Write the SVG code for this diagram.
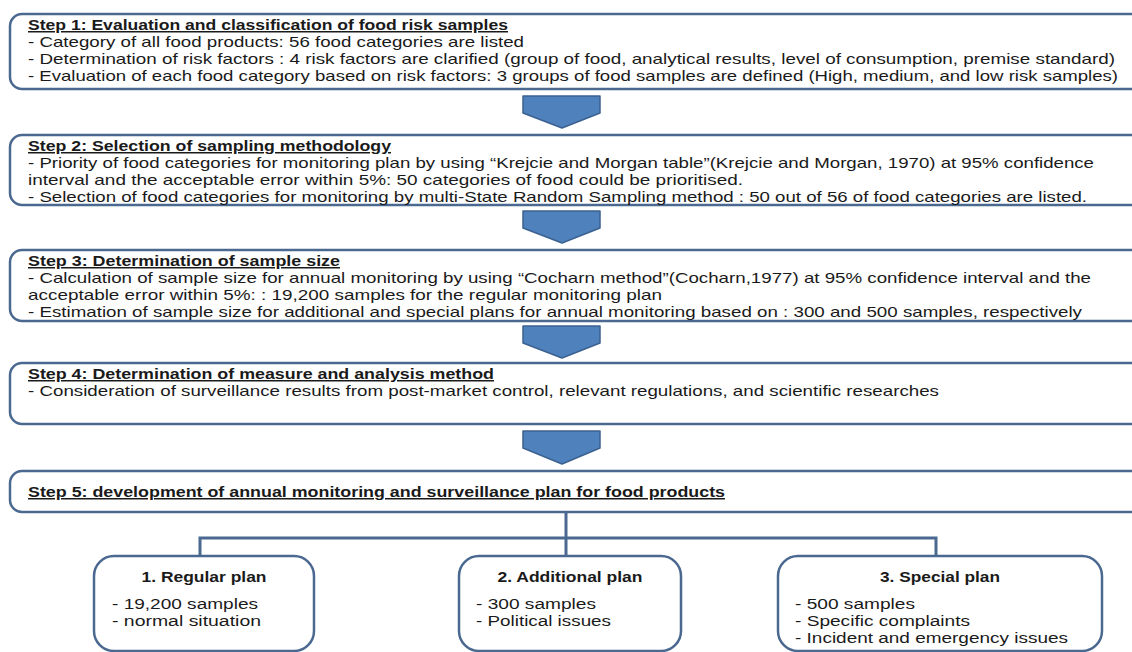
<svg xmlns="http://www.w3.org/2000/svg" width="1132" height="652" viewBox="0 0 1132 652">
<style>
.box{fill:#fff;stroke:#4a6890;stroke-width:2.5}
.arr{fill:#4f81bd;stroke:#3b6190;stroke-width:1.5;stroke-linejoin:round}
.t{font-family:"Liberation Sans",Arial,sans-serif;font-size:15px;fill:#1a1a1a}
.p{font-size:15.5px}
.h{font-weight:bold;text-decoration:underline}
.b{font-weight:bold}
.con{fill:none;stroke:#4a6890;stroke-width:3}
</style>
<rect width="1132" height="652" fill="#fff"/>
<g id="step1">
<rect class="box" x="10" y="14" width="1140" height="75" rx="12"/>
<text class="t h" x="28" y="30" textLength="480" lengthAdjust="spacingAndGlyphs">Step 1: Evaluation and classification of food risk samples</text>
<text class="t" x="28" y="47" textLength="496" lengthAdjust="spacingAndGlyphs">- Category of all food products: 56 food categories are listed</text>
<text class="t" x="28" y="64" textLength="1087" lengthAdjust="spacingAndGlyphs">- Determination of risk factors : 4 risk factors are clarified (group of food, analytical results, level of consumption, premise standard)</text>
<text class="t" x="28" y="81" textLength="1090" lengthAdjust="spacingAndGlyphs">- Evaluation of each food category based on risk factors: 3 groups of food samples are defined (High, medium, and low risk samples)</text>
</g>
<g id="arrow1"><polygon class="arr" points="523,96 600,96 600,113 562,128 523,113"/></g>
<g id="step2">
<rect class="box" x="10" y="135" width="1140" height="70" rx="12"/>
<text class="t h" x="28" y="151" textLength="363" lengthAdjust="spacingAndGlyphs">Step 2: Selection of sampling methodology</text>
<text class="t" x="28" y="168" textLength="1066" lengthAdjust="spacingAndGlyphs">- Priority of food categories for monitoring plan by using “Krejcie and Morgan table”(Krejcie and Morgan, 1970) at 95% confidence</text>
<text class="t" x="28" y="185" textLength="715" lengthAdjust="spacingAndGlyphs">interval and the acceptable error within 5%: 50 categories of food could be prioritised.</text>
<text class="t" x="28" y="202" textLength="1059" lengthAdjust="spacingAndGlyphs">- Selection of food categories for monitoring by multi-State Random Sampling method : 50 out of 56 of food categories are listed.</text>
</g>
<g id="arrow2"><polygon class="arr" points="523,211 600,211 600,228 562,243 523,228"/></g>
<g id="step3">
<rect class="box" x="10" y="250" width="1140" height="71" rx="12"/>
<text class="t h" x="28" y="266" textLength="312" lengthAdjust="spacingAndGlyphs">Step 3: Determination of sample size</text>
<text class="t" x="28" y="283" textLength="1063" lengthAdjust="spacingAndGlyphs">- Calculation of sample size for annual monitoring by using “Cocharn method”(Cocharn,1977) at 95% confidence interval and the</text>
<text class="t" x="28" y="300" textLength="634" lengthAdjust="spacingAndGlyphs">acceptable error within 5%: : 19,200 samples for the regular monitoring plan</text>
<text class="t" x="28" y="317" textLength="1054" lengthAdjust="spacingAndGlyphs">- Estimation of sample size for additional and special plans for annual monitoring based on :  300 and 500  samples, respectively</text>
</g>
<g id="arrow3"><polygon class="arr" points="523,326 600,326 600,343 562,358 523,343"/></g>
<g id="step4">
<rect class="box" x="10" y="363" width="1140" height="61" rx="12"/>
<text class="t h" x="28" y="379" textLength="466" lengthAdjust="spacingAndGlyphs">Step 4: Determination of measure and analysis method</text>
<text class="t" x="28" y="396" textLength="911" lengthAdjust="spacingAndGlyphs">- Consideration of surveillance results from post-market control, relevant regulations, and scientific researches</text>
</g>
<g id="arrow4"><polygon class="arr" points="523,431 600,431 600,448 562,464 523,448"/></g>
<g id="step5">
<rect class="box" x="10" y="471" width="1140" height="41" rx="12"/>
<text class="t h" x="28" y="497" textLength="697" lengthAdjust="spacingAndGlyphs">Step 5: development of annual monitoring and surveillance plan for food products</text>
</g>
<g id="connectors">
<path class="con" d="M566,512 V556"/>
<path class="con" d="M200,556 V538 H936 V556"/>
</g>
<g id="plan1">
<rect class="box" x="94" y="556" width="220" height="95" rx="20"/>
<text class="t p b" x="204" y="582" text-anchor="middle" textLength="125" lengthAdjust="spacingAndGlyphs">1. Regular plan</text>
<text class="t p" x="112" y="609" textLength="146" lengthAdjust="spacingAndGlyphs">- 19,200 samples</text>
<text class="t p" x="112" y="626" textLength="149" lengthAdjust="spacingAndGlyphs">- normal situation</text>
</g>
<g id="plan2">
<rect class="box" x="459" y="556" width="222" height="95" rx="20"/>
<text class="t p b" x="570" y="582" text-anchor="middle" textLength="145" lengthAdjust="spacingAndGlyphs">2. Additional plan</text>
<text class="t p" x="476" y="609" textLength="120" lengthAdjust="spacingAndGlyphs">- 300 samples</text>
<text class="t p" x="476" y="626" textLength="135" lengthAdjust="spacingAndGlyphs">- Political issues</text>
</g>
<g id="plan3">
<rect class="box" x="778" y="556" width="324" height="95" rx="20"/>
<text class="t p b" x="940" y="582" text-anchor="middle" textLength="120" lengthAdjust="spacingAndGlyphs">3. Special plan</text>
<text class="t p" x="795" y="609" textLength="120" lengthAdjust="spacingAndGlyphs">- 500 samples</text>
<text class="t p" x="795" y="626" textLength="175" lengthAdjust="spacingAndGlyphs">- Specific complaints</text>
<text class="t p" x="795" y="643" textLength="273" lengthAdjust="spacingAndGlyphs">- Incident and  emergency issues</text>
</g>
</svg>
